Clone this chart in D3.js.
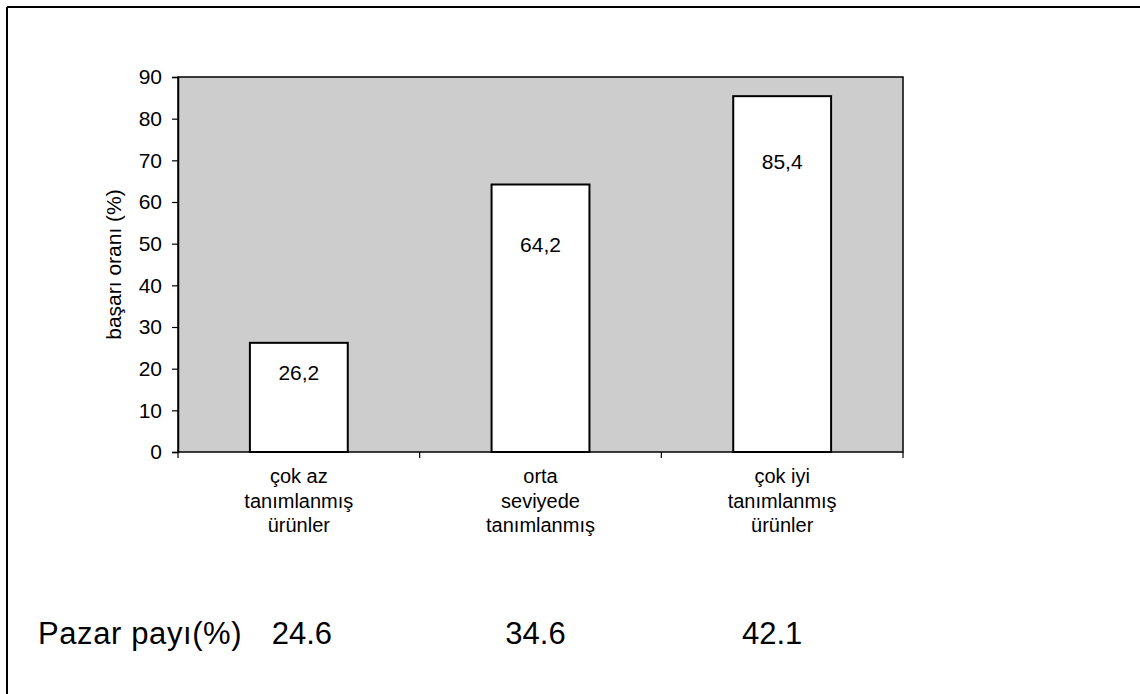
<!DOCTYPE html>
<html>
<head>
<meta charset="utf-8">
<script src="https://cdn.jsdelivr.net/npm/d3@7"></script>
<style>
  html, body { margin: 0; padding: 0; background: #fff; }
  svg { display: block; font-family: Arial, "Liberation Sans", sans-serif; }
</style>
</head>
<body>
<svg id="chart" width="1140" height="694"></svg>
<script>
// Success rate by how well the product is defined, with market share below.
const categories = [
  ["çok az", "tanımlanmış", "ürünler"],
  ["orta", "seviyede", "tanımlanmış"],
  ["çok iyi", "tanımlanmış", "ürünler"]
];
const successRate = [26.2, 64.2, 85.4];
const successLabels = ["26,2", "64,2", "85,4"];
const marketShare = ["24.6", "34.6", "42.1"];
const yTicks = [0, 10, 20, 30, 40, 50, 60, 70, 80, 90];

// Vertical drop (px) of each value label below its bar top.
const labelDrop = [32, 62, 67];
// Horizontal nudge (px) of each market share figure from its column centre.
const shareShift = [3, -5, -10];

const svg = d3.select("#chart");
const plot = { left: 178, top: 77, right: 903, bottom: 452 };

const x = d3.scaleBand()
  .domain(d3.range(categories.length))
  .range([plot.left, plot.right])
  .padding(0);
const barW = x.bandwidth() * 0.405;

const y = d3.scaleLinear()
  .domain([0, 90])
  .range([plot.bottom, plot.top]);

// Outer frame (top and left edges)
svg.append("line")
  .attr("x1", 7).attr("y1", 7).attr("x2", 1140).attr("y2", 7)
  .attr("stroke", "#000").attr("stroke-width", 2);
svg.append("line")
  .attr("x1", 7).attr("y1", 7).attr("x2", 7).attr("y2", 694)
  .attr("stroke", "#000").attr("stroke-width", 2);

// Plot background
svg.append("rect")
  .attr("x", plot.left).attr("y", plot.top)
  .attr("width", plot.right - plot.left)
  .attr("height", plot.bottom - plot.top)
  .attr("fill", "#cdcdcd")
  .attr("stroke", "#000").attr("stroke-width", 1.5);

// Bars
svg.selectAll("rect.bar")
  .data(successRate)
  .join("rect")
  .attr("class", "bar")
  .attr("x", (d, i) => x(i) + (x.bandwidth() - barW) / 2)
  .attr("y", d => y(d))
  .attr("width", barW)
  .attr("height", d => y(0) - y(d))
  .attr("fill", "#fff")
  .attr("stroke", "#000")
  .attr("stroke-width", 2);

// Value labels
svg.selectAll("text.val")
  .data(successRate)
  .join("text")
  .attr("class", "val")
  .attr("x", (d, i) => x(i) + x.bandwidth() / 2)
  .attr("y", (d, i) => y(d) + labelDrop[i])
  .attr("text-anchor", "middle")
  .attr("dominant-baseline", "middle")
  .attr("font-size", 21)
  .text((d, i) => successLabels[i]);

// Y axis
const yAxis = d3.axisLeft(y)
  .tickValues(yTicks)
  .tickSize(6)
  .tickPadding(10);
const gy = svg.append("g")
  .attr("transform", `translate(${plot.left},0)`)
  .call(yAxis);
gy.select(".domain").attr("stroke", "#000").attr("stroke-width", 1.5);
gy.selectAll(".tick line").attr("stroke", "#000").attr("stroke-width", 1.2);
gy.selectAll(".tick text")
  .attr("font-size", 21)
  .attr("font-family", "Arial, 'Liberation Sans', sans-serif")
  .attr("fill", "#000");

// X axis tick marks at category boundaries
const bounds = d3.range(categories.length + 1).map(i =>
  i < categories.length ? x(i) : plot.right);
svg.selectAll("line.xtick")
  .data(bounds)
  .join("line")
  .attr("class", "xtick")
  .attr("x1", d => d).attr("x2", d => d)
  .attr("y1", plot.bottom).attr("y2", plot.bottom + 6)
  .attr("stroke", "#000").attr("stroke-width", 1.2);

// Y axis title
svg.append("text")
  .attr("transform", `translate(121,${(plot.top + plot.bottom) / 2}) rotate(-90)`)
  .attr("text-anchor", "middle")
  .attr("font-size", 21)
  .text("başarı oranı (%)");

// Category labels (three lines each)
const cat = svg.selectAll("text.cat")
  .data(categories)
  .join("text")
  .attr("class", "cat")
  .attr("text-anchor", "middle")
  .attr("font-size", 20);
cat.selectAll("tspan")
  .data((d, i) => d.map(line => ({ line, i })))
  .join("tspan")
  .attr("x", d => x(d.i) + x.bandwidth() / 2)
  .attr("y", (d, j) => 483 + j * 24.5)
  .text(d => d.line);

// Market share row
svg.append("text")
  .attr("x", 38).attr("y", 644)
  .attr("font-size", 31)
  .attr("letter-spacing", 0.6)
  .text("Pazar payı(%)");
svg.selectAll("text.share")
  .data(marketShare)
  .join("text")
  .attr("class", "share")
  .attr("x", (d, i) => x(i) + x.bandwidth() / 2 + shareShift[i])
  .attr("y", 644)
  .attr("text-anchor", "middle")
  .attr("font-size", 31)
  .text(d => d);
</script>
</body>
</html>
